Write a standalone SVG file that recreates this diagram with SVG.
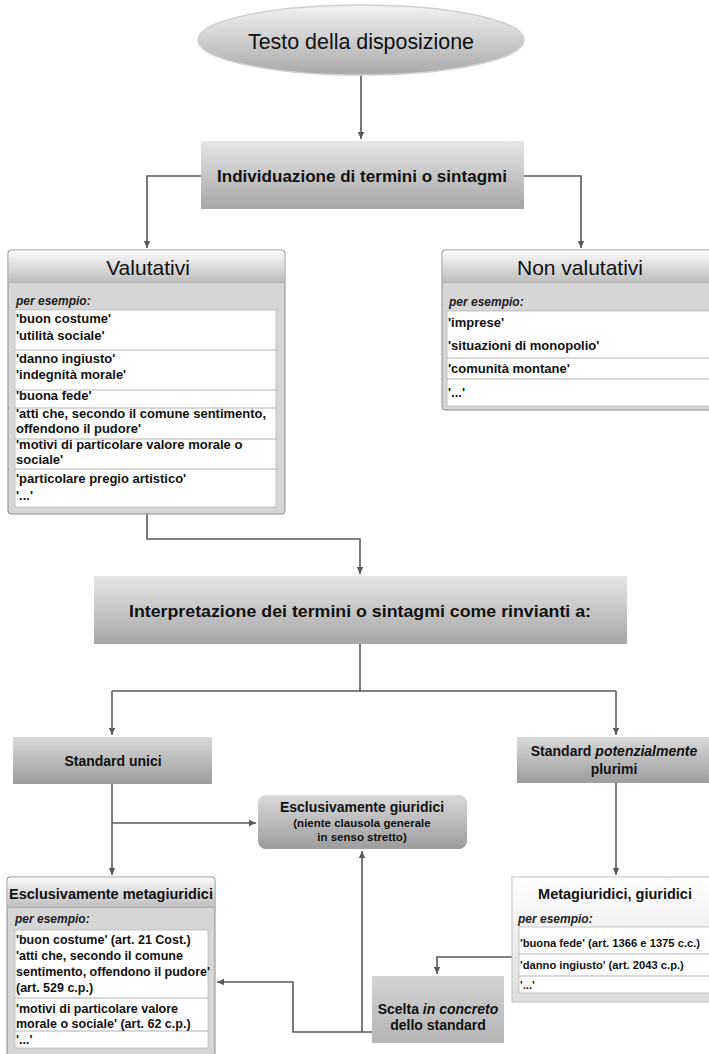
<svg xmlns="http://www.w3.org/2000/svg" width="709" height="1054" viewBox="0 0 709 1054">
<defs>
<linearGradient id="gEll" x1="0" y1="0" x2="0" y2="1"><stop offset="0" stop-color="#f2f2f2"/><stop offset="1" stop-color="#a9a9a9"/></linearGradient>
<linearGradient id="gBox" x1="0" y1="0" x2="0" y2="1"><stop offset="0" stop-color="#e6e6e6"/><stop offset="1" stop-color="#a6a6a6"/></linearGradient>
<linearGradient id="gBox2" x1="0" y1="0" x2="0" y2="1"><stop offset="0" stop-color="#d9d9d9"/><stop offset="1" stop-color="#9c9c9c"/></linearGradient>
<linearGradient id="gHead" x1="0" y1="0" x2="0" y2="1"><stop offset="0" stop-color="#fbfbfb"/><stop offset="1" stop-color="#bdbdbd"/></linearGradient>
<linearGradient id="gLight" x1="0" y1="0" x2="0" y2="1"><stop offset="0" stop-color="#ffffff"/><stop offset="1" stop-color="#dcdcdc"/></linearGradient>
<linearGradient id="gScelta" x1="0" y1="0" x2="0" y2="1"><stop offset="0" stop-color="#d2d2d2"/><stop offset="1" stop-color="#b5b5b5"/></linearGradient>
<marker id="arr" markerUnits="userSpaceOnUse" markerWidth="8" markerHeight="8" refX="7" refY="4" orient="auto"><path d="M0,0.8 L7,4 L0,7.2 Z" fill="#5a5a5a"/></marker>
<style>
.ln{fill:none;stroke:#5a5a5a;stroke-width:1.6}
.t{font-family:"Liberation Sans",Arial,sans-serif;fill:#111}
.b{font-weight:bold}
.i{font-style:italic}
.it{font-family:"Liberation Sans",Arial,sans-serif;font-size:13px;font-weight:bold;fill:#111}
.it2{font-family:"Liberation Sans",Arial,sans-serif;font-size:12.5px;font-weight:bold;fill:#111}
.it3{font-family:"Liberation Sans",Arial,sans-serif;font-size:11.2px;font-weight:bold;fill:#111}
.ex{font-family:"Liberation Sans",Arial,sans-serif;font-size:12px;font-weight:bold;font-style:italic;fill:#222}
.frame{stroke:#8c8c8c;stroke-width:1}
.sep{stroke:#b0b0b0;stroke-width:1}
.white{fill:#ffffff;stroke:#b8b8b8;stroke-width:0.8}
</style>
</defs>

<g id="connectors">
<path class="ln" d="M361,75 V139" marker-end="url(#arr)"/>
<path class="ln" d="M201,176 H147 V248" marker-end="url(#arr)"/>
<path class="ln" d="M524,176 H581 V248" marker-end="url(#arr)"/>
<path class="ln" d="M147,514 V539 H360 V574" marker-end="url(#arr)"/>
<path class="ln" d="M360,644 V691"/>
<path class="ln" d="M112,691 H616"/>
<path class="ln" d="M112,691 V735" marker-end="url(#arr)"/>
<path class="ln" d="M616,691 V735" marker-end="url(#arr)"/>
<path class="ln" d="M112,784 V875" marker-end="url(#arr)"/>
<path class="ln" d="M112,823 H256" marker-end="url(#arr)"/>
<path class="ln" d="M616,783 V875" marker-end="url(#arr)"/>
<path class="ln" d="M512,957 H437 V974" marker-end="url(#arr)"/>
<path class="ln" d="M372,1032 H293 V982 H217" marker-end="url(#arr)"/>
<path class="ln" d="M362,1032 V851" marker-end="url(#arr)"/>
</g>

<g id="testo">
<ellipse cx="361" cy="40" rx="163" ry="35" fill="url(#gEll)" stroke="#d0d0d0" stroke-width="1.5"/>
<text class="t" x="361" y="49" font-size="22" text-anchor="middle" textLength="226" lengthAdjust="spacingAndGlyphs">Testo della disposizione</text>
</g>

<g id="individuazione">
<rect x="201" y="141" width="323" height="68" fill="url(#gBox)"/>
<text class="t b" x="362" y="182" font-size="17" text-anchor="middle" textLength="290" lengthAdjust="spacingAndGlyphs">Individuazione di termini o sintagmi</text>
</g>

<g id="valutativi">
<rect class="frame" x="8" y="250" width="277" height="264" rx="3" fill="#d6d6d6"/>
<rect x="8.5" y="250.5" width="276" height="32" rx="3" fill="url(#gHead)"/>
<line class="sep" x1="8" y1="282.5" x2="285" y2="282.5" stroke="#9a9a9a"/>
<text class="t" x="148" y="275" font-size="21" text-anchor="middle">Valutativi</text>
<text class="ex" x="16" y="305">per  esempio:</text>
<rect class="white" x="15" y="310" width="261" height="197"/>
<line class="sep" x1="15" y1="350" x2="276" y2="350"/>
<line class="sep" x1="15" y1="390" x2="276" y2="390"/>
<line class="sep" x1="15" y1="408" x2="276" y2="408"/>
<line class="sep" x1="15" y1="439" x2="276" y2="439"/>
<line class="sep" x1="15" y1="469" x2="276" y2="469"/>
<text class="it" x="16" y="323">'buon costume'</text>
<text class="it" x="16" y="340">'utilità sociale'</text>
<text class="it" x="16" y="363">'danno ingiusto'</text>
<text class="it" x="16" y="379">'indegnità morale'</text>
<text class="it" x="16" y="400">'buona fede'</text>
<text class="it" x="16" y="418">'atti che, secondo il comune sentimento,</text>
<text class="it" x="16" y="433">offendono il pudore'</text>
<text class="it" x="16" y="449">'motivi di particolare valore morale o</text>
<text class="it" x="16" y="464">sociale'</text>
<text class="it" x="16" y="483">'particolare pregio artistico'</text>
<text class="it" x="16" y="500">'...'</text>
</g>

<g id="non-valutativi">
<rect class="frame" x="442" y="250" width="270" height="160" rx="3" fill="#d6d6d6"/>
<rect x="442.5" y="250.5" width="270" height="32" rx="3" fill="url(#gHead)"/>
<line class="sep" x1="442" y1="282.5" x2="709" y2="282.5" stroke="#9a9a9a"/>
<text class="t" x="580" y="275" font-size="21" text-anchor="middle">Non valutativi</text>
<text class="ex" x="449" y="306">per  esempio:</text>
<rect class="white" x="447" y="311" width="265" height="95"/>
<line class="sep" x1="447" y1="358" x2="709" y2="358"/>
<line class="sep" x1="447" y1="379" x2="709" y2="379"/>
<text class="it" x="448" y="327">'imprese'</text>
<text class="it" x="448" y="350">'situazioni di monopolio'</text>
<text class="it" x="448" y="373">'comunità montane'</text>
<text class="it" x="448" y="397">'...'</text>
</g>

<g id="interpretazione">
<rect x="94" y="576" width="533" height="68" fill="url(#gBox)"/>
<text class="t b" x="360" y="617" font-size="17" text-anchor="middle" textLength="462" lengthAdjust="spacingAndGlyphs">Interpretazione dei termini o sintagmi come rinvianti a:</text>
</g>

<g id="standard-unici">
<rect x="13" y="737" width="199" height="47" fill="url(#gBox2)"/>
<text class="t b" x="113" y="766" font-size="14" text-anchor="middle">Standard unici</text>
</g>

<g id="standard-plurimi">
<rect x="517" y="737" width="192" height="46" fill="url(#gBox2)"/>
<text class="t b" x="614" y="756" font-size="14" text-anchor="middle">Standard <tspan class="i">potenzialmente</tspan></text>
<text class="t b" x="614" y="774" font-size="14" text-anchor="middle">plurimi</text>
</g>

<g id="esclusivamente-giuridici">
<rect x="258" y="795" width="209" height="54" rx="8" fill="url(#gBox2)"/>
<text class="t b" x="362" y="812" font-size="14" text-anchor="middle">Esclusivamente giuridici</text>
<text class="t b" x="362" y="827" font-size="11.5" text-anchor="middle">(niente clausola generale</text>
<text class="t b" x="362" y="841" font-size="11.5" text-anchor="middle">in senso stretto)</text>
</g>

<g id="esclusivamente-metagiuridici">
<rect class="frame" x="7" y="877" width="208" height="180" rx="3" fill="#d6d6d6"/>
<rect x="7.5" y="877.5" width="207" height="30" rx="3" fill="url(#gHead)"/>
<line class="sep" x1="7" y1="907.5" x2="215" y2="907.5" stroke="#9a9a9a"/>
<text class="t b" x="111" y="899" font-size="14.5" text-anchor="middle">Esclusivamente metagiuridici</text>
<text class="ex" x="15" y="923">per  esempio:</text>
<rect class="white" x="15" y="930" width="193" height="118"/>
<line class="sep" x1="15" y1="998" x2="208" y2="998"/>
<line class="sep" x1="15" y1="1031" x2="208" y2="1031"/>
<text class="it2" x="16" y="944">'buon costume' (art. 21 Cost.)</text>
<text class="it2" x="16" y="960">'atti che, secondo il comune</text>
<text class="it2" x="16" y="976">sentimento, offendono il pudore'</text>
<text class="it2" x="16" y="992">(art. 529 c.p.)</text>
<text class="it2" x="16" y="1013">'motivi di particolare valore</text>
<text class="it2" x="16" y="1028">morale o sociale' (art. 62 c.p.)</text>
<text class="it2" x="16" y="1044">'...'</text>
</g>

<g id="metagiuridici-giuridici">
<rect x="512" y="877" width="200" height="125" fill="url(#gLight)" stroke="#c4c4c4" stroke-width="1"/>
<text class="t b" x="615" y="899" font-size="14.5" text-anchor="middle">Metagiuridici, giuridici</text>
<text class="ex" x="518" y="923">per  esempio:</text>
<rect class="white" x="519" y="927" width="193" height="66"/>
<line class="sep" x1="519" y1="954" x2="709" y2="954"/>
<line class="sep" x1="519" y1="976" x2="709" y2="976"/>
<text class="it3" x="520" y="947">'buona fede' (art. 1366 e 1375 c.c.)</text>
<text class="it3" x="520" y="969">'danno ingiusto' (art. 2043 c.p.)</text>
<text class="it3" x="520" y="989">'...'</text>
</g>

<g id="scelta">
<rect x="372" y="976" width="132" height="67" fill="url(#gScelta)"/>
<text class="t b" x="438" y="1014" font-size="14" text-anchor="middle">Scelta <tspan class="i">in concreto</tspan></text>
<text class="t b" x="438" y="1030" font-size="14" text-anchor="middle">dello standard</text>
</g>
</svg>
